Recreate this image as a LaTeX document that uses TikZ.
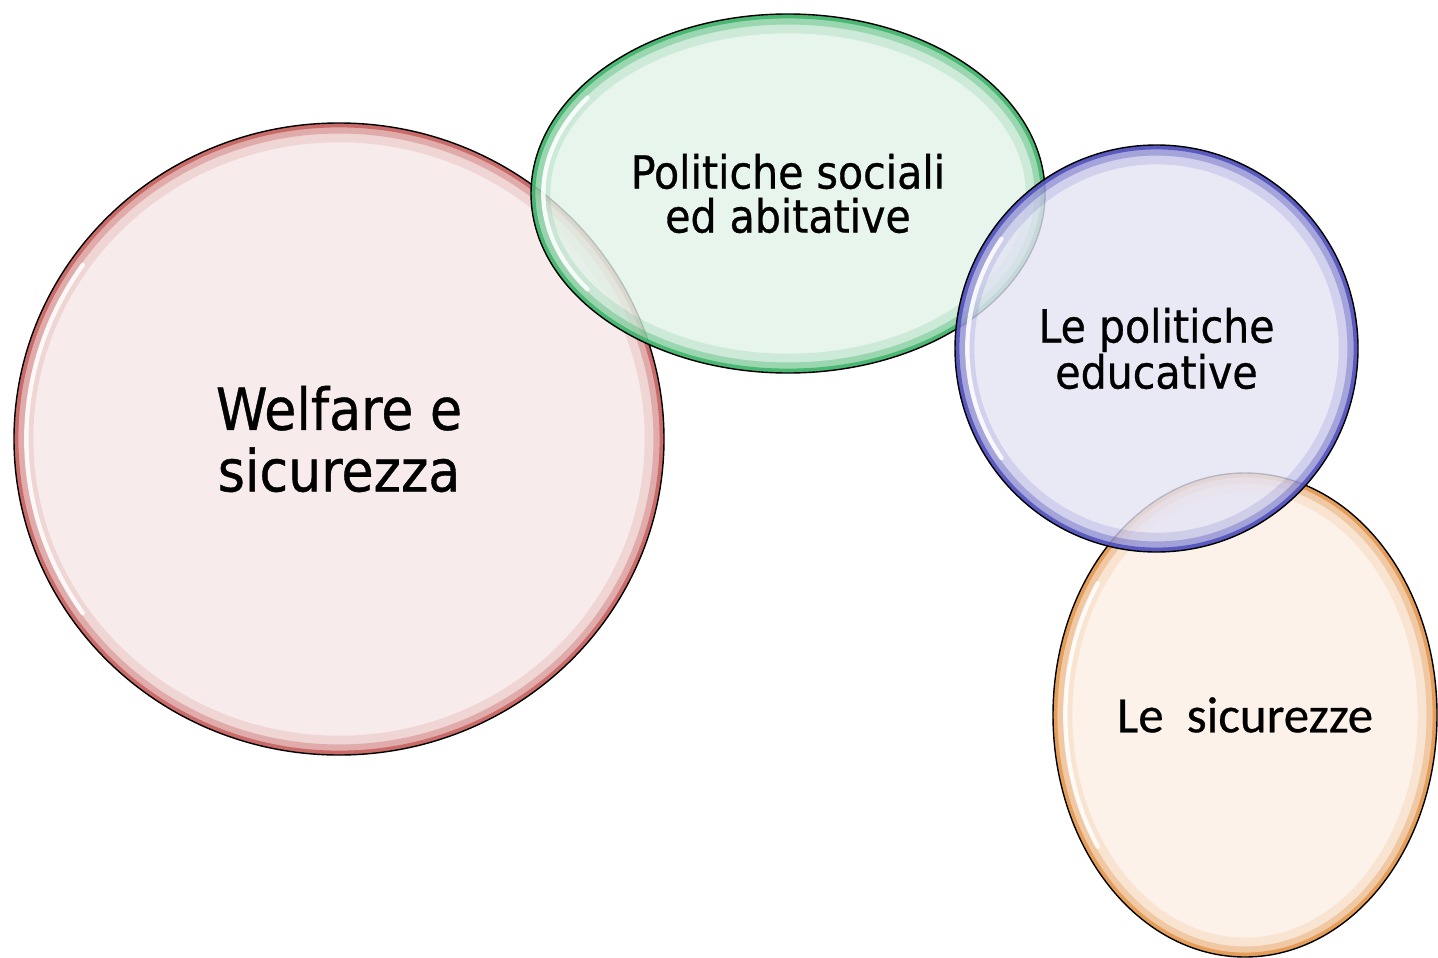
\documentclass[tikz,border=0pt]{standalone}
\usepackage{fontspec}
\setmainfont[FakeBold=0.7]{DejaVu Sans Condensed}
\newfontfamily\calib[FakeBold=0.5]{Carlito}
\usetikzlibrary{shapes.geometric}

\definecolor{rosso}{RGB}{192,80,77}
\definecolor{verde}{RGB}{40,170,90}
\definecolor{blu}{RGB}{60,60,180}
\definecolor{arancio}{RGB}{225,140,60}

\tikzset{
  bubble/.style n args={3}{ellipse, inner sep=0pt, align=center,
    minimum width=2*#2, minimum height=2*#3,
    fill=#1!14, fill opacity=.8, text opacity=1, draw=black, draw opacity=1, line width=.8pt,
    path picture={
      \draw[#1, line width=22pt, opacity=.14] (path picture bounding box.center) ellipse [x radius=#2, y radius=#3];
      \draw[#1, line width=12pt, opacity=.3] (path picture bounding box.center) ellipse [x radius=#2, y radius=#3];
      \draw[#1, line width=5pt, opacity=.7] (path picture bounding box.center) ellipse [x radius=#2, y radius=#3];
      \draw[white, line width=2.5pt, opacity=.85, line cap=round]
        ([shift={(145:#2-7pt and #3-7pt)}]path picture bounding box.center)
        arc [start angle=145, end angle=215, x radius=#2-7pt, y radius=#3-7pt];
    }},
  big/.style={font=\fontsize{33}{35}\selectfont},
  mid/.style={font=\fontsize{26}{25}\selectfont},
}

\begin{document}
\begin{tikzpicture}
\useasboundingbox (0,0) rectangle (28.76,-19.14);
%
\node[bubble={rosso}{6.5cm}{6.32cm}, big] (welfare) at (6.78,-8.78) {Welfare e\\sicurezza};
\node[bubble={verde}{5.14cm}{3.59cm}, mid] (sociali) at (15.76,-3.87) {Politiche sociali\\ed abitative};
\node[bubble={arancio}{3.84cm}{4.84cm}, font=\calib\fontsize{29}{30}\selectfont] (sicurezze) at (24.9,-14.3) {Le\ \ sicurezze};
\node[bubble={blu}{4.03cm}{4.07cm}, mid] (educative) at (23.13,-6.97) {Le politiche\\educative};
%
\end{tikzpicture}
\end{document}
